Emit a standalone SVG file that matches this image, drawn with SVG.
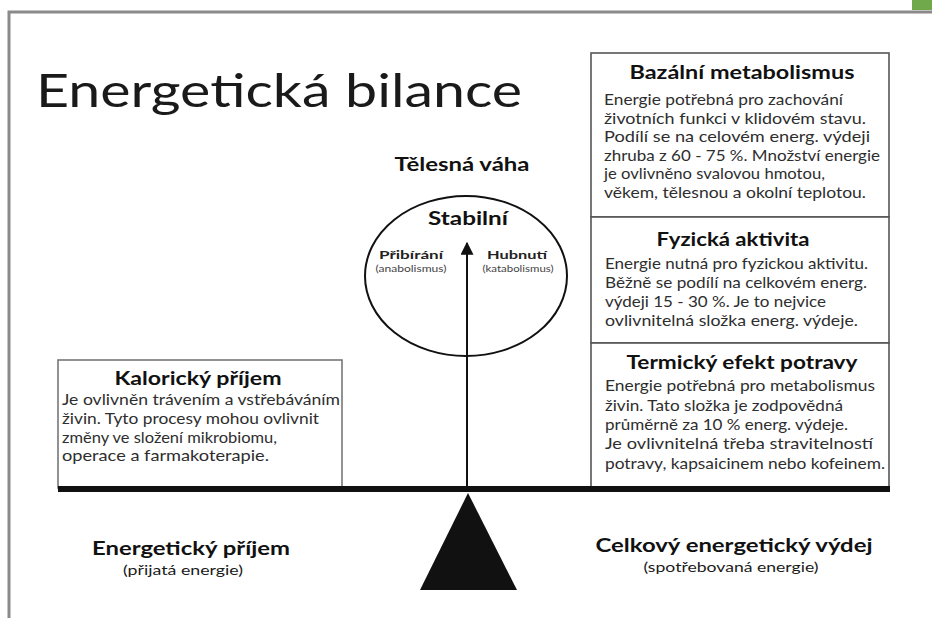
<svg xmlns="http://www.w3.org/2000/svg" width="932" height="618" viewBox="0 0 932 618">
<style>
text{font-family:Lato,"Open Sans","Liberation Sans",sans-serif;fill:#1a1a1a}
.t{font-weight:bold;font-size:18px;text-anchor:middle;fill:#111}
.b{font-size:15px;fill:#2e2e2e}
.box{fill:#fff;stroke:#555;stroke-width:1.6}
.lbl{font-weight:bold;font-size:12px;text-anchor:middle;fill:#222}
.sub{font-size:8.5px;text-anchor:middle;fill:#444}
</style>
<defs>
<marker id="ah" viewBox="0 0 10 10" refX="9" refY="5" markerWidth="13" markerHeight="13" markerUnits="userSpaceOnUse" orient="auto">
<path d="M0,0 L10,5 L0,10 Z" fill="#111"/>
</marker>
</defs>
<rect width="932" height="618" fill="#fff"/>
<g id="frame">
<rect x="912" y="0" width="20" height="10" fill="#70a84c"/>
<path d="M9,618 V12 H932" fill="none" stroke="#8a8a8a" stroke-width="3"/>
</g>
<g id="title">
<text x="36" y="107" font-size="46" textLength="486" lengthAdjust="spacingAndGlyphs">Energetická bilance</text>
</g>
<g id="bazalni">
<rect class="box" x="591" y="53" width="298" height="164"/>
<text class="t" x="742" y="79" textLength="225" lengthAdjust="spacingAndGlyphs">Bazální metabolismus</text>
<text class="b" x="604" y="105" textLength="239" lengthAdjust="spacingAndGlyphs">Energie potřebná pro zachování</text>
<text class="b" x="604" y="124" textLength="262" lengthAdjust="spacingAndGlyphs">životních funkci v klidovém stavu.</text>
<text class="b" x="604" y="142" textLength="266" lengthAdjust="spacingAndGlyphs">Podílí se na celovém energ. výdeji</text>
<text class="b" x="604" y="161" textLength="276" lengthAdjust="spacingAndGlyphs">zhruba z 60 - 75 %. Množství energie</text>
<text class="b" x="604" y="179" textLength="221" lengthAdjust="spacingAndGlyphs">je ovlivněno svalovou hmotou,</text>
<text class="b" x="604" y="198" textLength="262" lengthAdjust="spacingAndGlyphs">věkem, tělesnou a okolní teplotou.</text>
</g>
<g id="fyzicka">
<rect class="box" x="591" y="217" width="298" height="126"/>
<text class="t" x="733" y="246" textLength="153" lengthAdjust="spacingAndGlyphs">Fyzická aktivita</text>
<text class="b" x="605" y="269" textLength="263" lengthAdjust="spacingAndGlyphs">Energie nutná pro fyzickou aktivitu.</text>
<text class="b" x="605" y="288" textLength="262" lengthAdjust="spacingAndGlyphs">Běžně se podílí na celkovém energ.</text>
<text class="b" x="605" y="307" textLength="221" lengthAdjust="spacingAndGlyphs">výdeji 15 - 30 %. Je to nejvice</text>
<text class="b" x="605" y="326" textLength="253" lengthAdjust="spacingAndGlyphs">ovlivnitelná složka energ. výdeje.</text>
</g>
<g id="termicky">
<rect class="box" x="591" y="343" width="298" height="145"/>
<text class="t" x="742" y="369" textLength="231" lengthAdjust="spacingAndGlyphs">Termický efekt potravy</text>
<text class="b" x="605" y="391" textLength="270" lengthAdjust="spacingAndGlyphs">Energie potřebná pro metabolismus</text>
<text class="b" x="605" y="411" textLength="238" lengthAdjust="spacingAndGlyphs">živin. Tato složka je zodpovědná</text>
<text class="b" x="605" y="430" textLength="243" lengthAdjust="spacingAndGlyphs">průměrně za 10 % energ. výdeje.</text>
<text class="b" x="605" y="449" textLength="268" lengthAdjust="spacingAndGlyphs">Je ovlivnitelná třeba stravitelností</text>
<text class="b" x="605" y="469" textLength="280" lengthAdjust="spacingAndGlyphs">potravy, kapsaicinem nebo kofeinem.</text>
</g>
<g id="kaloricky">
<rect class="box" x="58" y="360" width="284" height="128" style="stroke:#777"/>
<text class="t" x="198" y="385" textLength="167" lengthAdjust="spacingAndGlyphs">Kalorický příjem</text>
<text class="b" x="62" y="405" textLength="278" lengthAdjust="spacingAndGlyphs">Je ovlivněn trávením a vstřebáváním</text>
<text class="b" x="62" y="424" textLength="257" lengthAdjust="spacingAndGlyphs">živin. Tyto procesy mohou ovlivnit</text>
<text class="b" x="62" y="443" textLength="215" lengthAdjust="spacingAndGlyphs">změny ve složení mikrobiomu,</text>
<text class="b" x="62" y="461" textLength="207" lengthAdjust="spacingAndGlyphs">operace a farmakoterapie.</text>
</g>
<g id="vaha">
<text class="t" x="462" y="171" textLength="135" lengthAdjust="spacingAndGlyphs">Tělesná váha</text>
<ellipse cx="466" cy="276" rx="101" ry="80" fill="none" stroke="#111" stroke-width="2"/>
<text class="t" x="468" y="225" font-size="19" textLength="80" lengthAdjust="spacingAndGlyphs">Stabilní</text>
<text class="lbl" x="411" y="259" textLength="64" lengthAdjust="spacingAndGlyphs">Přibírání</text>
<text class="sub" x="411" y="272" textLength="71" lengthAdjust="spacingAndGlyphs">(anabolismus)</text>
<text class="lbl" x="517" y="259" textLength="60" lengthAdjust="spacingAndGlyphs">Hubnutí</text>
<text class="sub" x="518" y="272" textLength="71" lengthAdjust="spacingAndGlyphs">(katabolismus)</text>
</g>
<g id="connectors">
<line x1="467" y1="488" x2="467" y2="243" stroke="#111" stroke-width="2" marker-end="url(#ah)"/>
</g>
<g id="vahy">
<rect x="58" y="486" width="832" height="6" fill="#111"/>
<polygon points="468,493 420,590 517,590" fill="#111"/>
</g>
<g id="prijem">
<text class="t" x="191" y="555" font-size="20" textLength="198" lengthAdjust="spacingAndGlyphs">Energetický příjem</text>
<text x="183" y="575" font-size="14" text-anchor="middle" fill="#333" textLength="120" lengthAdjust="spacingAndGlyphs">(přijatá energie)</text>
</g>
<g id="vydej">
<text class="t" x="734" y="552" font-size="20" textLength="277" lengthAdjust="spacingAndGlyphs">Celkový energetický výdej</text>
<text x="731" y="572" font-size="14" text-anchor="middle" fill="#333" textLength="175" lengthAdjust="spacingAndGlyphs">(spotřebovaná energie)</text>
</g>
</svg>
